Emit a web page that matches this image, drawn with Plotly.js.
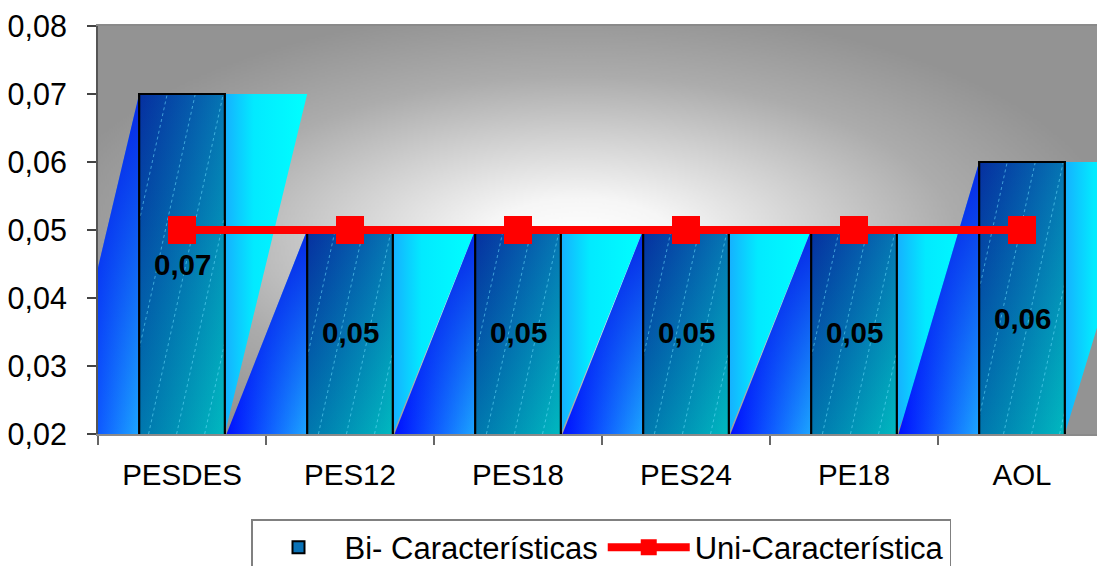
<!DOCTYPE html>
<html>
<head>
<meta charset="utf-8">
<script src="https://cdn.plot.ly/plotly-3.0.1.min.js"></script>
<style>
  html, body { margin: 0; padding: 0; background: #ffffff; }
  #chart { width: 1097px; height: 566px; }
</style>
</head>
<body>
<div id="chart"></div>
<script>
// ---- data ----
const categories = ['PESDES', 'PES12', 'PES18', 'PES24', 'PE18', 'AOL'];
const biValues   = [0.07, 0.05, 0.05, 0.05, 0.05, 0.06];
const uniValues  = [0.05, 0.05, 0.05, 0.05, 0.05, 0.05];
const yTicks     = [0.02, 0.03, 0.04, 0.05, 0.06, 0.07, 0.08];

// ---- styling / geometry (category units) ----
const Y_MIN = 0.02, Y_MAX = 0.08;
const HALF = 0.255;        // half width of the bar face
const LEAN_BLUE = 0.48;    // slanted blue wedge on the left of each bar
const LEAN_CYAN = 0.49;    // slanted cyan wedge on the right of each bar
const FONT = 'Liberation Sans, Arial, sans-serif';

const idx = categories.map((_, i) => i);
const fmt = v => v.toFixed(2).replace('.', ',');

// soft grey background of the plotting area
function backgroundImage() {
  const w = 1000, h = 410;
  const c = document.createElement('canvas');
  c.width = w; c.height = h;
  const ctx = c.getContext('2d');
  ctx.fillStyle = '#939393';
  ctx.fillRect(0, 0, w, h);
  const cx = 482, cy = 215, rx = 540, ry = 235;
  ctx.save();
  ctx.translate(cx, cy);
  ctx.scale(rx / ry, 1);
  const g = ctx.createRadialGradient(0, 0, 0, 0, 0, ry);
  g.addColorStop(0.0, '#ffffff');
  g.addColorStop(0.18, '#f6f6f6');
  g.addColorStop(0.45, '#d0d0d0');
  g.addColorStop(0.7, '#acacac');
  g.addColorStop(1.0, '#939393');
  ctx.fillStyle = g;
  ctx.fillRect(-cx * ry / rx, -cy, w * ry / rx, h);
  ctx.restore();
  return c.toDataURL('image/png');
}

const traces = [];

// legend carrier for the bar series (sits underneath the gradient faces)
traces.push({
  type: 'bar', x: idx, y: biValues, width: 2 * HALF,
  name: 'Bi- Características',
  marker: { color: '#0a72b6', line: { color: '#000', width: 2 } },
  hoverinfo: 'skip'
});

// cyan wedges (right side)
biValues.forEach((v, i) => {
  const xr = i + HALF;
  traces.push({
    type: 'scatter', mode: 'none', showlegend: false, hoverinfo: 'skip',
    x: [xr, xr + LEAN_CYAN, xr, xr], y: [v, v, Y_MIN, v],
    fill: 'toself',
    fillgradient: { type: 'horizontal',
      colorscale: [[0, '#16b0ff'], [0.35, '#02eaff'], [1, '#00ffff']] }
  });
});

// blue wedges (left side)
biValues.forEach((v, i) => {
  const xl = i - HALF;
  const px = [xl - LEAN_BLUE, xl, xl, xl - LEAN_BLUE];
  const py = [Y_MIN, v, Y_MIN, Y_MIN];
  traces.push({
    type: 'scatter', mode: 'none', showlegend: false, hoverinfo: 'skip',
    x: px, y: py, fill: 'toself',
    fillgradient: { type: 'horizontal',
      colorscale: [[0, '#0010ff'], [1, '#1ca6ff']] }
  });
  traces.push({
    type: 'scatter', mode: 'none', showlegend: false, hoverinfo: 'skip',
    x: px, y: py, fill: 'toself',
    fillgradient: { type: 'vertical',
      colorscale: [[0, 'rgba(0,10,230,0)'], [1, 'rgba(0,10,225,0.8)']] }
  });
});

// bar faces
biValues.forEach((v, i) => {
  const xl = i - HALF, xr = i + HALF;
  const px = [xl, xl, xr, xr, xl];
  const py = [Y_MIN, v, v, Y_MIN, Y_MIN];
  traces.push({
    type: 'scatter', mode: 'none', showlegend: false, hoverinfo: 'skip',
    x: px, y: py, fill: 'toself',
    fillgradient: { type: 'vertical',
      colorscale: [[0, '#00aebe'], [1, '#0846aa']] }
  });
  traces.push({
    type: 'scatter', mode: 'none', showlegend: false, hoverinfo: 'skip',
    x: px, y: py, fill: 'toself',
    fillgradient: { type: 'horizontal',
      colorscale: [[0, 'rgba(0,0,140,0.32)'], [1, 'rgba(0,205,195,0.35)']] }
  });
});

// faint steep hatch lines inside the faces
(function () {
  const SLOPE = 8.9;      // x-units per y-unit
  const STEP = 0.167;     // spacing in category units
  const hx = [], hy = [];
  biValues.forEach((v, i) => {
    const xl = i - HALF, xr = i + HALF;
    for (let c = xl - SLOPE * (v - Y_MIN); c < xr; c += STEP) {
      const y0 = Math.max(Y_MIN, (xl - c) / SLOPE + Y_MIN);
      const y1 = Math.min(v, (xr - c) / SLOPE + Y_MIN);
      if (y1 - y0 < 0.001) continue;
      hx.push(c + SLOPE * (y0 - Y_MIN), c + SLOPE * (y1 - Y_MIN), null);
      hy.push(y0, y1, null);
    }
  });
  traces.push({
    type: 'scatter', mode: 'lines', showlegend: false, hoverinfo: 'skip',
    x: hx, y: hy, line: { color: 'rgba(110,225,255,0.55)', width: 1, dash: 'dot' }
  });
})();

// black outlines of the faces
(function () {
  const ox = [], oy = [];
  biValues.forEach((v, i) => {
    const xl = i - HALF, xr = i + HALF;
    ox.push(xl, xl, xr, xr, null);
    oy.push(Y_MIN, v, v, Y_MIN, null);
  });
  traces.push({
    type: 'scatter', mode: 'lines', showlegend: false, hoverinfo: 'skip',
    x: ox, y: oy, line: { color: '#000000', width: 2.2 }
  });
})();

// single-characteristic series
traces.push({
  type: 'scatter', mode: 'lines+markers', name: 'Uni-Característica',
  x: idx, y: uniValues,
  line: { color: '#ff0000', width: 8 },
  marker: { symbol: 'square', size: 28, color: '#ff0000' },
  hoverinfo: 'skip'
});

// value labels, centred on the visible part of each bar
const labelShift = { AOL: -20 };
const annotations = biValues.map((v, i) => ({
  x: i, y: (Y_MIN + v) / 2, xref: 'x', yref: 'y',
  text: fmt(v), showarrow: false,
  yshift: labelShift[categories[i]] || 0,
  font: { family: FONT, size: 29.5, color: '#000', weight: 'bold' }
}));

const layout = {
  width: 1097, height: 566,
  margin: { l: 98, r: 0, t: 26, b: 132, pad: 0 },
  paper_bgcolor: '#ffffff',
  plot_bgcolor: '#939393',
  separators: ',.',
  font: { family: FONT, color: '#000' },
  showlegend: true,
  hovermode: false,
  barmode: 'overlay',
  xaxis: {
    range: [-0.5, -0.5 + 999 / 168],
    tickmode: 'array', tickvals: idx, ticktext: categories,
    ticks: '', ticklabelstandoff: 14,
    tickfont: { family: FONT, size: 29.5, color: '#000' },
    minor: { tickmode: 'array', tickvals: idx.map(i => i - 0.5),
             ticks: 'outside', ticklen: 9, tickwidth: 1.5, tickcolor: '#666' },
    showline: true, linecolor: '#8a8a8a', linewidth: 2, mirror: true,
    showgrid: false, zeroline: false, automargin: false, fixedrange: true
  },
  yaxis: {
    range: [Y_MIN, Y_MAX],
    tickmode: 'array', tickvals: yTicks, ticktext: yTicks.map(fmt),
    ticks: 'outside', ticklen: 9, tickwidth: 1.5, tickcolor: '#444',
    ticklabelstandoff: 14,
    tickfont: { family: FONT, size: 30.5, color: '#000' },
    showline: true, linecolor: '#555', linewidth: 2,
    showgrid: false, zeroline: false, automargin: false, fixedrange: true
  },
  legend: {
    orientation: 'h', xref: 'container', yref: 'container',
    x: 601 / 1097, xanchor: 'center', y: 1 - 519 / 566, yanchor: 'top',
    bgcolor: '#ffffff', bordercolor: '#808080', borderwidth: 1.5,
    font: { family: FONT, size: 31, color: '#000' },
    itemwidth: 82, traceorder: 'normal'
  },
  images: [{
    source: backgroundImage(), xref: 'paper', yref: 'paper',
    x: 0, y: 1, sizex: 1, sizey: 1, xanchor: 'left', yanchor: 'top',
    sizing: 'stretch', layer: 'below'
  }],
  annotations: annotations
};

Plotly.newPlot('chart', traces, layout, { staticPlot: true, displayModeBar: false });
</script>
</body>
</html>
